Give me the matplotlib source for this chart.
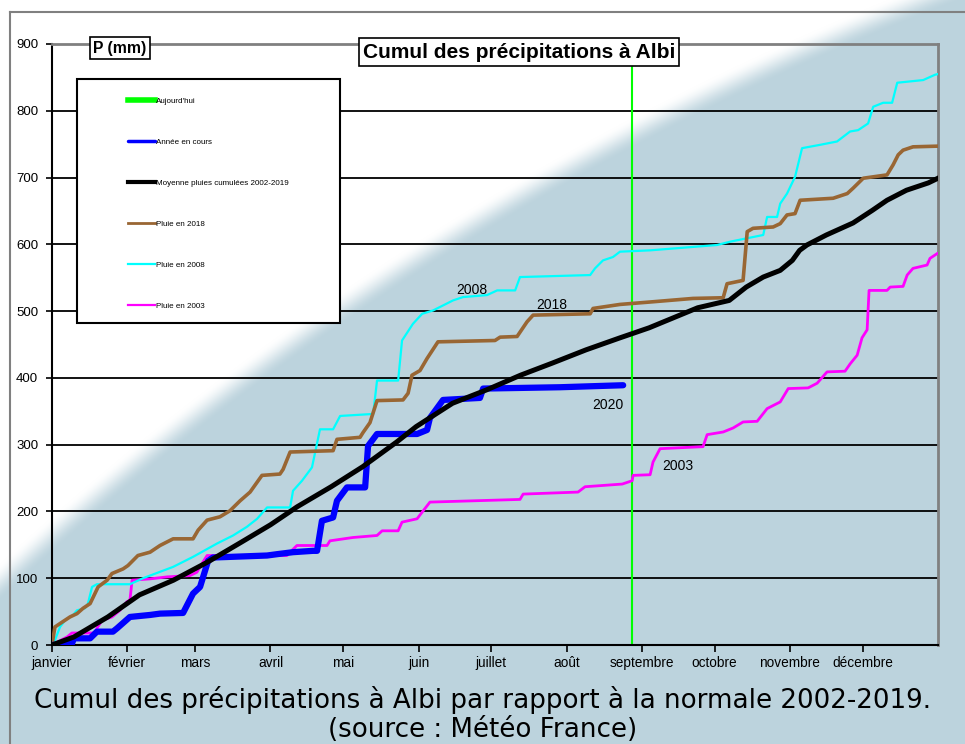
import numpy as np
import matplotlib
matplotlib.use('Agg')
import matplotlib.pyplot as plt
from matplotlib.patches import Rectangle
from matplotlib.lines import Line2D

plt.rcParams['font.family'] = ['Liberation Sans', 'DejaVu Sans']

# Données (jour de l'année, cumul en mm)
mois = ['janvier', 'février', 'mars', 'avril', 'mai', 'juin', 'juillet',
        'août', 'septembre', 'octobre', 'novembre', 'décembre']
debut_mois = [0, 31, 59, 90, 120, 151, 181, 212, 243, 273, 304, 334]
aujourdhui = 239

jours_2020 = [0, 8.2, 9.1, 15.7, 18.5, 25.1, 26.8, 32.1, 40.4, 44.5, 54.0, 58.1, 61.0, 64.3, 66.3,
              88.6, 92.7, 99.3, 107.5, 109.2, 111.2, 115.8, 117.4, 121.5, 129.0, 130.2, 133.9,
              150.4, 154.5, 155.7, 161.1, 176.3, 177.6, 209.3, 235.3]
pluie_2020 = [0, 2, 10, 10, 20, 20, 25, 42, 45, 47, 48, 77, 87, 126, 131, 134, 136, 139, 141, 141,
              186, 191, 216, 236, 236, 298, 316, 316, 322, 340, 367, 370, 384, 386, 389]

jours_moy = [0, 9, 23, 36, 50, 64, 78, 90, 101, 115, 128, 142, 150, 165, 179, 193, 206, 220, 234,
             246, 266, 279, 286, 293, 300, 305, 308, 311, 319, 330, 338, 344, 352, 361, 365]
pluie_moy = [0, 12, 42, 75, 97, 124, 154, 180, 207, 237, 267, 304, 327, 362, 382, 404, 422, 442,
             460, 475, 505, 516, 536, 551, 561, 576, 591, 599, 614, 632, 651, 666, 681, 692, 699]

jours_2018 = [0, 1.2, 4.5, 7.4, 10.3, 12.8, 15.7, 19.0, 22.7, 24.7, 29.3, 31.3, 35.4, 40.4, 44.5,
              49.9, 58.1, 60.2, 63.9, 69.2, 73.3, 77.5, 81.6, 86.5, 93.9, 95.2, 98.1, 115.8, 117.4,
              126.9, 128.1, 131.0, 133.9, 144.6, 146.7, 148.3, 151.6, 154.5, 159.0, 182.5, 184.6,
              191.6, 195.7, 198.2, 221.7, 222.9, 234.0, 247.6, 264.1, 276.5, 278.1, 284.7, 286.4,
              288.8, 297.1, 300.0, 302.8, 306.1, 308.2, 321.8, 327.6, 330.0, 334.2, 344.0, 346.5,
              348.6, 350.6, 354.7, 364.6]
pluie_2018 = [0, 27, 35, 42, 47, 55, 62, 87, 97, 107, 114, 119, 134, 139, 149, 159, 159, 172, 187,
              192, 201, 216, 229, 254, 256, 263, 289, 291, 308, 311, 318, 333, 366, 367, 377, 404,
              411, 429, 454, 456, 461, 462, 484, 494, 496, 504, 510, 514, 519, 520, 541, 546, 619,
              624, 626, 631, 644, 646, 666, 669, 676, 684, 699, 704, 719, 734, 741, 746, 747]

jours_2008 = [0, 1.2, 3.3, 5.4, 8.7, 10.3, 13.6, 14.8, 16.5, 18.5, 32.1, 37.5, 49.9, 58.1, 68.0,
              74.6, 80.3, 84.5, 88.6, 98.1, 99.3, 103.0, 107.1, 110.4, 115.8, 118.7, 132.3, 133.9,
              142.6, 144.2, 148.7, 152.5, 157.0, 165.2, 169.3, 179.2, 183.4, 190.8, 192.8, 221.7,
              223.7, 227.0, 231.1, 234.0, 246.4, 274.0, 279.4, 293.0, 294.6, 298.7, 300.0, 302.8,
              306.1, 309.0, 316.4, 323.4, 328.8, 332.1, 336.2, 338.3, 342.4, 346.1, 348.2, 358.9,
              363.8, 365]
pluie_2008 = [0, 7, 27, 37, 45, 52, 55, 62, 87, 91, 91, 100, 117, 132, 152, 164, 177, 189, 206, 206,
              231, 246, 266, 323, 323, 343, 346, 396, 396, 456, 481, 496, 501, 516, 521, 524, 531,
              531, 551, 554, 564, 576, 581, 589, 591, 599, 604, 614, 641, 641, 661, 676, 701, 744,
              749, 754, 769, 771, 781, 806, 812, 812, 842, 846, 854, 855]

jours_2003 = [0, 2.5, 6.2, 8.2, 17.7, 18.5, 20.6, 24.7, 28.0, 30.9, 32.1, 33.0, 40.4, 47.4, 56.9,
              59.7, 61.8, 63.9, 96.8, 98.1, 100.9, 113.3, 114.5, 124.0, 133.9, 136.0, 142.6, 144.2,
              150.4, 152.5, 155.7, 192.8, 194.1, 216.7, 219.6, 234.9, 239.0, 239.4, 246.4, 247.6,
              250.5, 268.2, 269.9, 276.5, 280.6, 284.7, 290.5, 294.6, 300.0, 303.3, 311.5, 315.2,
              319.3, 326.7, 328.8, 331.7, 333.7, 335.8, 336.6, 344.0, 345.3, 350.6, 352.3, 354.7,
              360.5, 361.7, 364.6]
pluie_2003 = [0, 5, 12, 18, 18, 25, 37, 42, 52, 65, 67, 97, 99, 102, 104, 109, 122, 134, 134, 139,
              149, 149, 156, 161, 164, 171, 171, 184, 189, 199, 214, 218, 226, 229, 237, 241, 246,
              254, 255, 274, 294, 297, 315, 319, 325, 334, 335, 354, 364, 384, 385, 392, 409, 410,
              421, 434, 460, 472, 531, 531, 536, 537, 554, 564, 569, 579, 586]

# Etiquettes des courbes (jour, mm)
etiquettes = {'2008': (173, 532), '2018': (206, 509), '2020': (229, 359), '2003': (258, 268)}

W, H = 965, 744
fig = plt.figure(figsize=(W / 100, H / 100), dpi=100)
fig.patch.set_facecolor('white')

# Fond : zone blanche en haut à gauche, bleu-gris ailleurs (bord arrondi flou)
bg = fig.add_axes([0, 0, 1, 1], zorder=-10)
yy, xx = np.mgrid[0:H, 0:W]
d = 2923 - np.hypot(xx - 1986.0, yy - 2711.0)
t = np.clip((d + 3) / 28.0, 0, 1)
t = t * t * (3 - 2 * t)
bleu = np.array([188, 211, 221]) / 255.0
img = (1 - t)[..., None] * np.ones(3) + t[..., None] * bleu
bg.imshow(img, extent=(0, W, H, 0), aspect='auto')
bg.set_xlim(0, W)
bg.set_ylim(H, 0)
bg.axis('off')

# Cadre gris extérieur
fig.add_artist(Line2D([10 / W, 1], [1 - 12 / H, 1 - 12 / H], color='#808080', lw=1.5))
fig.add_artist(Line2D([10 / W, 10 / W], [0, 1 - 12 / H], color='#808080', lw=1.5))

ax = fig.add_axes([52 / W, 99 / H, 886 / W, 601 / H])
ax.patch.set_alpha(0)
ax.set_xlim(0, 365)
ax.set_ylim(0, 900)

for v in range(100, 900, 100):
    ax.axhline(v, color='black', lw=1.3, zorder=1)

l_auj = ax.axvline(aujourdhui, color='#00ff00', lw=1.5, zorder=2, label="Aujourd'hui")
l_2003, = ax.plot(jours_2003, pluie_2003, color='#ff00ff', lw=2.0, zorder=3, label='Pluie en 2003')
l_2008, = ax.plot(jours_2008, pluie_2008, color='#00ffff', lw=1.6, zorder=3, label='Pluie en 2008')
l_2018, = ax.plot(jours_2018, pluie_2018, color='#996633', lw=2.6, zorder=3, label='Pluie en 2018')
l_2020, = ax.plot(jours_2020, pluie_2020, color='#0000ff', lw=4.5, zorder=4,
                  solid_capstyle='round', label='Année en cours')
l_moy, = ax.plot(jours_moy, pluie_moy, color='black', lw=3.6, zorder=5,
                 label='Moyenne pluies cumulées 2002-2019')

for txt, (xj, ym) in etiquettes.items():
    ax.text(xj, ym, txt, fontsize=10, ha='center', va='center', zorder=6)

ax.set_xticks(debut_mois)
ax.set_xticklabels(mois, fontsize=9.8)
ax.set_yticks(range(0, 1000, 100))
ax.tick_params(axis='y', labelsize=9.5, length=4, width=1.2, pad=6)
ax.tick_params(axis='x', length=5, width=1.2, pad=3)
for s in ['left', 'bottom']:
    ax.spines[s].set_color('black')
    ax.spines[s].set_linewidth(1.5)
for s in ['top', 'right']:
    ax.spines[s].set_color('#808080')
    ax.spines[s].set_linewidth(2)

# Légende
fig.add_artist(Rectangle((77 / W, 1 - 323 / H), 263 / W, 244 / H, transform=fig.transFigure,
                         facecolor='white', edgecolor='black', lw=1.5, zorder=20))
leg = fig.legend(handles=[l_auj, l_2020, l_moy, l_2018, l_2008, l_2003], loc='upper left',
                 bbox_to_anchor=(128 / W, 1 - 97 / H), frameon=False, fontsize=5.8,
                 labelspacing=4.15, handlelength=3.35, handletextpad=0.15, borderpad=0,
                 borderaxespad=0)
leg.set_zorder(21)
for ligne, lw in zip(leg.get_lines(), [4, 2.5, 3, 2, 1.6, 1.6]):
    ligne.set_linewidth(lw)

# Encadrés titre et unité
fig.text(120 / W, 1 - 48 / H, 'P (mm)', fontsize=11.3, fontweight='bold', ha='center', va='center',
         zorder=22, bbox=dict(boxstyle='square,pad=0.22', facecolor='white', edgecolor='black', lw=1.2))
fig.text(519 / W, 1 - 52 / H, 'Cumul des précipitations à Albi', fontsize=15, fontweight='bold',
         ha='center', va='center', zorder=22,
         bbox=dict(boxstyle='square,pad=0.2', facecolor='white', edgecolor='black', lw=1.2))

fig.text(483 / W, 1 - 700 / H, 'Cumul des précipitations à Albi par rapport à la normale 2002-2019.',
         fontsize=18.8, family='DejaVu Sans', ha='center', va='center')
fig.text(483 / W, 1 - 730 / H, '(source : Météo France)', fontsize=18.8, family='DejaVu Sans',
         ha='center', va='center')

fig.savefig('out.png', dpi=100)
